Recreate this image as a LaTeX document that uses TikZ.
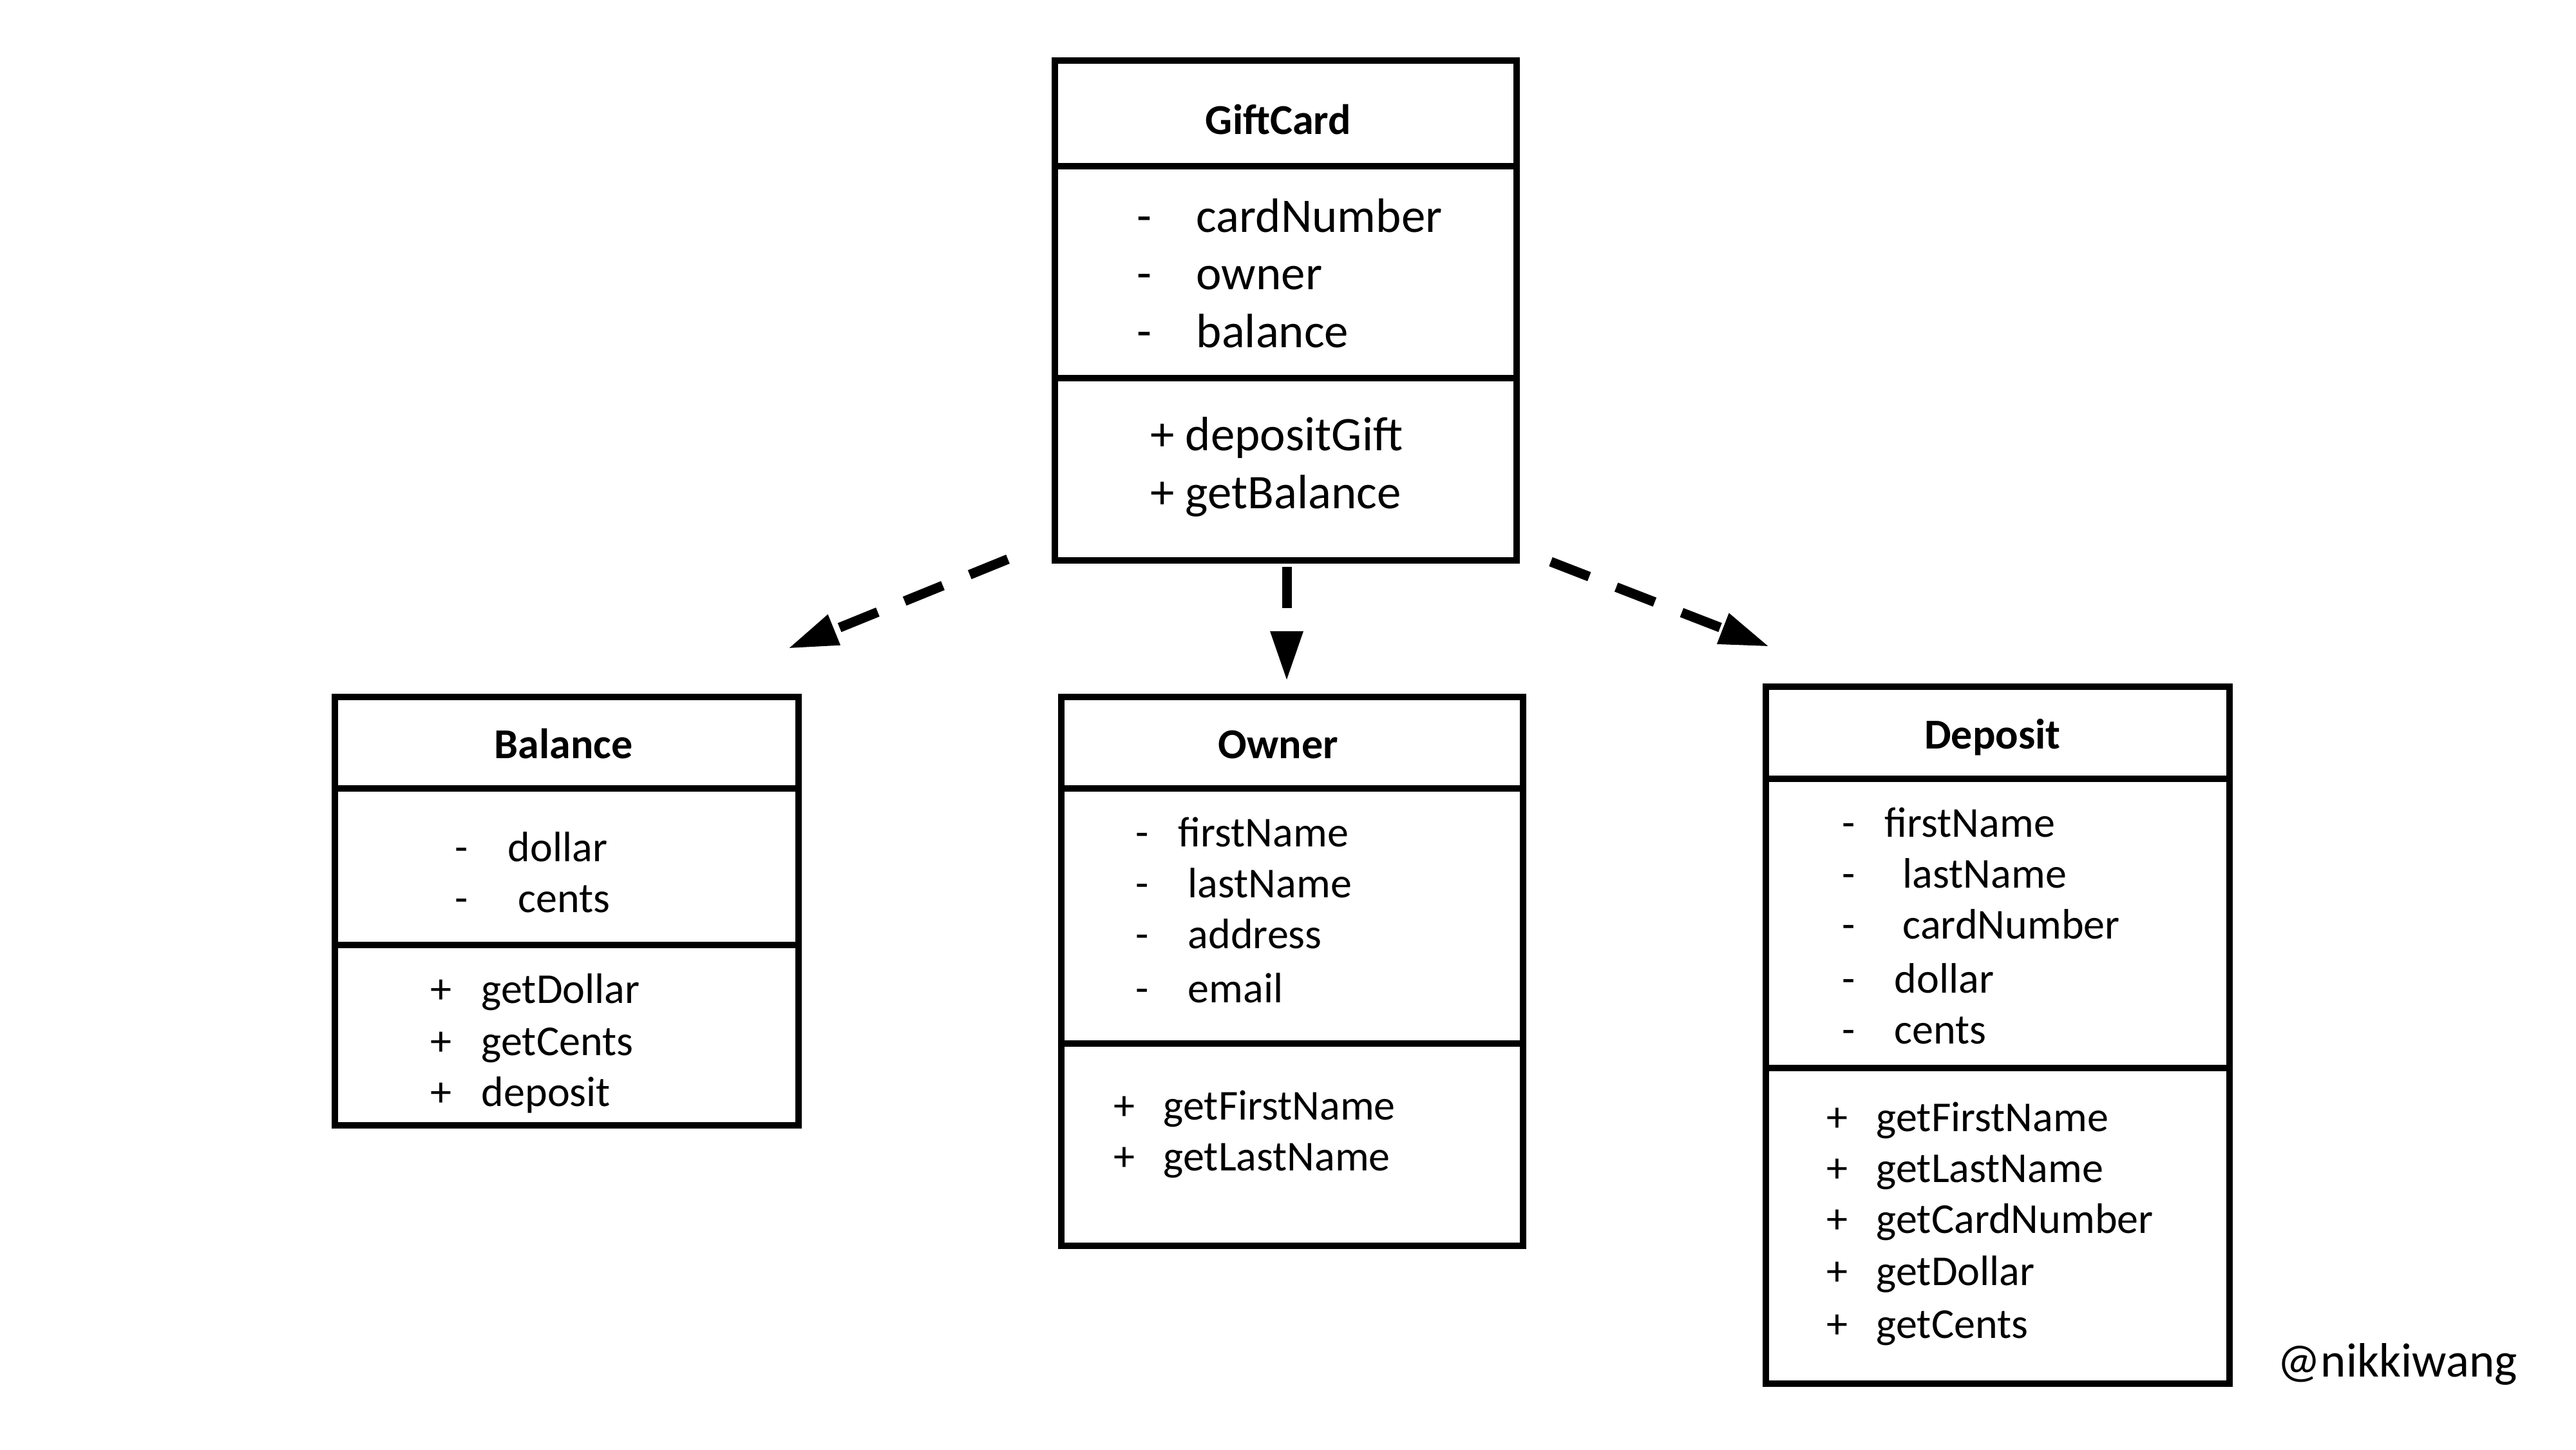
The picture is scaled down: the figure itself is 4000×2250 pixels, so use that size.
\documentclass[tikz,border=0pt]{standalone}
\usepackage{fontspec}
\setmainfont{Carlito}
\usetikzlibrary{arrows.meta}
\tikzset{
  umlbox/.style={draw=black, line width=0.1cm, rectangle, inner sep=0pt, fill=none},
  divider/.style={draw=black, line width=0.1cm},
  txt/.style={anchor=base west, inner sep=0pt, yshift=-0.03cm, font=\fontsize{18.8}{20}\selectfont},
  bigtxt/.style={anchor=base west, inner sep=0pt, yshift=-0.03cm, font=\fontsize{21.3}{23}\selectfont},
  ttl/.style={anchor=base, inner sep=0pt, yshift=-0.03cm, font=\bfseries\fontsize{18.8}{20}\selectfont},
  dep/.style={line width=0.15cm, dash pattern=on 0.64cm off 0.45cm,
    -{Triangle[length=0.78cm, width=0.47cm]}}
}
\begin{document}
\begin{tikzpicture}[x=0.01cm, y=-0.01cm]
\useasboundingbox[fill=white] (0,0) rectangle (4000,2250);

% ---------------- GiftCard ----------------
\node[umlbox, minimum width=7.17cm, minimum height=7.76cm] (gift) at (1996.5,482) {};
\draw[divider] (1638,258) -- (2355,258);
\draw[divider] (1638,587) -- (2355,587);
\node[ttl] (giftT) at (1985,205) {GiftCard};
\node[bigtxt] (gA1m) at (1765,357) {-};
\node[bigtxt] (gA1) at (1857,357) {cardNumber};
\node[bigtxt] (gA2m) at (1765,446) {-};
\node[bigtxt] (gA2) at (1857,446) {owner};
\node[bigtxt] (gA3m) at (1765,536) {-};
\node[bigtxt] (gA3) at (1857,536) {balance};
\node[bigtxt] (gM1) at (1786,696) {+ depositGift};
\node[bigtxt] (gM2) at (1786,786) {+ getBalance};

% ---------------- Balance ----------------
\node[umlbox, minimum width=7.20cm, minimum height=6.65cm] (bal) at (880,1414.5) {};
\draw[divider] (520,1224) -- (1240,1224);
\draw[divider] (520,1467) -- (1240,1467);
\node[ttl] (balT) at (875,1174) {Balance};
\node[txt] (bA1m) at (706,1334) {-};
\node[txt] (bA1) at (788,1334) {dollar};
\node[txt] (bA2m) at (706,1413) {-};
\node[txt] (bA2) at (804,1413) {cents};
\node[txt] (bM1p) at (668,1554) {+};
\node[txt] (bM1) at (747,1554) {getDollar};
\node[txt] (bM2p) at (668,1635) {+};
\node[txt] (bM2) at (747,1635) {getCents};
\node[txt] (bM3p) at (668,1714) {+};
\node[txt] (bM3) at (747,1714) {deposit};

% ---------------- Owner ----------------
\node[umlbox, minimum width=7.17cm, minimum height=8.52cm] (own) at (2006.5,1508) {};
\draw[divider] (1648,1224) -- (2365,1224);
\draw[divider] (1648,1620) -- (2365,1620);
\node[ttl] (ownT) at (1985,1174) {Owner};
\node[txt] (oA1m) at (1763,1311) {-};
\node[txt] (oA1) at (1829,1311) {firstName};
\node[txt] (oA2m) at (1763,1390) {-};
\node[txt] (oA2) at (1844,1390) {lastName};
\node[txt] (oA3m) at (1763,1469) {-};
\node[txt] (oA3) at (1844,1469) {address};
\node[txt] (oA4m) at (1763,1553) {-};
\node[txt] (oA4) at (1844,1553) {email};
\node[txt] (oM1p) at (1729,1735) {+};
\node[txt] (oM1) at (1806,1735) {getFirstName};
\node[txt] (oM2p) at (1729,1814) {+};
\node[txt] (oM2) at (1806,1814) {getLastName};

% ---------------- Deposit ----------------
\node[umlbox, minimum width=7.20cm, minimum height=10.82cm] (dep) at (3102,1607) {};
\draw[divider] (2742,1209) -- (3462,1209);
\draw[divider] (2742,1658) -- (3462,1658);
\node[ttl] (depT) at (3094,1159) {Deposit};
\node[txt] (dA1m) at (2860,1296) {-};
\node[txt] (dA1) at (2926,1296) {firstName};
\node[txt] (dA2m) at (2860,1375) {-};
\node[txt] (dA2) at (2954,1375) {lastName};
\node[txt] (dA3m) at (2860,1454) {-};
\node[txt] (dA3) at (2954,1454) {cardNumber};
\node[txt] (dA4m) at (2860,1538) {-};
\node[txt] (dA4) at (2941,1538) {dollar};
\node[txt] (dA5m) at (2860,1617) {-};
\node[txt] (dA5) at (2941,1617) {cents};
\node[txt] (dM1p) at (2836,1753) {+};
\node[txt] (dM1) at (2913,1753) {getFirstName};
\node[txt] (dM2p) at (2836,1832) {+};
\node[txt] (dM2) at (2913,1832) {getLastName};
\node[txt] (dM3p) at (2836,1911) {+};
\node[txt] (dM3) at (2913,1911) {getCardNumber};
\node[txt] (dM4p) at (2836,1992) {+};
\node[txt] (dM4) at (2913,1992) {getDollar};
\node[txt] (dM5p) at (2836,2074) {+};
\node[txt] (dM5) at (2913,2074) {getCents};

% signature
\node[bigtxt] (sig) at (3536,2134) {@nikkiwang};

% ---------------- arrows ----------------
\coordinate (aLs) at (1565,868);
\coordinate (aLe) at (1223,1007);
\coordinate (aCs) at (1998,880);
\coordinate (aCe) at (1998,1058);
\coordinate (aRs) at (2408,872);
\coordinate (aRe) at (2748,1004);
\draw[dep] (aLs) -- (aLe);
\draw[dep] (aCs) -- (aCe);
\draw[dep] (aRs) -- (aRe);
\end{tikzpicture}
\end{document}
